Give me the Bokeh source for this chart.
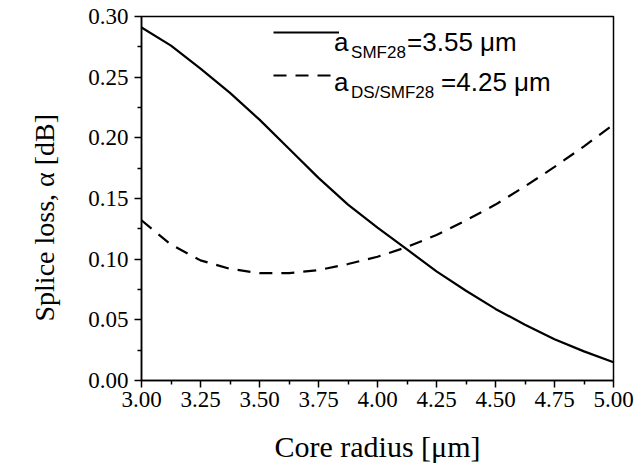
from bokeh.plotting import figure
from bokeh.models import (Range1d, FixedTicker, NumeralTickFormatter,
                          Legend, LegendItem, Label, Title)
from bokeh.embed import file_html
from bokeh.resources import INLINE

# Data
radius = [3.0, 3.125, 3.25, 3.375, 3.5, 3.625, 3.75, 3.875, 4.0, 4.125,
          4.25, 4.375, 4.5, 4.625, 4.75, 4.875, 5.0]
loss_smf28 = [0.291, 0.276, 0.257, 0.237, 0.215, 0.191, 0.167, 0.145, 0.126,
              0.108, 0.090, 0.074, 0.059, 0.046, 0.034, 0.024, 0.015]
loss_ds = [0.132, 0.112, 0.099, 0.092, 0.0885, 0.0885, 0.091, 0.096, 0.102,
           0.110, 0.120, 0.132, 0.145, 0.160, 0.176, 0.193, 0.211]

x_ticks = [3.0, 3.25, 3.5, 3.75, 4.0, 4.25, 4.5, 4.75, 5.0]
x_minor = [3.125, 3.375, 3.625, 3.875, 4.125, 4.375, 4.625, 4.875]
y_ticks = [0.0, 0.05, 0.10, 0.15, 0.20, 0.25, 0.30]
y_minor = [0.025, 0.075, 0.125, 0.175, 0.225, 0.275]

x_label = "Core radius [μm]"
y_label = "Splice loss, α [dB]"
leg1 = ("a", "SMF28", "=3.55 μm")
leg2 = ("a", "DS/SMF28", "=4.25 μm")

SERIF = "Liberation Serif"
SANS = "Liberation Sans"

p = figure(width=640, height=465, output_backend="svg", toolbar_location=None,
           x_range=Range1d(3.0, 5.0), y_range=Range1d(0.0, 0.30),
           min_border_left=123, min_border_right=27, min_border_top=16,
           min_border_bottom=84)
p.grid.visible = False
p.outline_line_color = "black"
p.outline_line_width = 1.5
p.background_fill_color = "white"
p.border_fill_color = "white"

r1 = p.line(radius, loss_smf28, line_color="black", line_width=2.2)
r2 = p.line(radius, loss_ds, line_color="black", line_width=2.2,
            line_dash="13 9")

p.xaxis.ticker = FixedTicker(ticks=x_ticks, minor_ticks=x_minor)
p.yaxis.ticker = FixedTicker(ticks=y_ticks, minor_ticks=y_minor)
p.xaxis.formatter = NumeralTickFormatter(format="0.00")
p.yaxis.formatter = NumeralTickFormatter(format="0.00")

for ax in (p.xaxis[0], p.yaxis[0]):
    ax.axis_line_width = 1.5
    ax.axis_line_color = "black"
    ax.major_tick_line_width = 1.5
    ax.minor_tick_line_width = 1.5
    ax.major_tick_in = 0
    ax.major_tick_out = 7
    ax.minor_tick_in = 0
    ax.minor_tick_out = 4
    ax.major_label_text_font = SERIF
    ax.major_label_text_font_size = "23px"
    ax.major_label_text_color = "black"
    ax.axis_label_text_font = SERIF
    ax.axis_label_text_font_style = "normal"
    ax.axis_label_text_color = "black"

p.xaxis.axis_label = x_label
p.xaxis.axis_label_text_font_size = "30px"
p.xaxis.major_label_standoff = 4
p.yaxis.major_label_standoff = 6
p.xaxis.axis_label_standoff = 20

# y axis title in the left panel, starting a little above the frame bottom
p.add_layout(Title(text=y_label, text_font=SERIF, text_font_size="28px",
                   text_font_style="normal", text_color="black",
                   align="left", offset=59, standoff=52), "left")

legend = Legend(items=[LegendItem(label=" ", renderers=[r1]),
                       LegendItem(label=" ", renderers=[r2])],
                location=(132, 290), glyph_width=66, glyph_height=30,
                label_height=30, spacing=13, padding=0, margin=0,
                border_line_color=None, background_fill_alpha=0,
                label_text_font_size="2px")
p.add_layout(legend)

# legend texts with subscripts
ax0, ay0 = 3.816, 0.2786
row_dy = 40
rest_offsets = [73, 107]
for i, (a, sub, rest) in enumerate((leg1, leg2)):
    yo = -row_dy * i
    p.add_layout(Label(x=ax0, y=ay0, x_offset=0, y_offset=yo, text=a,
                       text_font=SANS, text_font_size="26px",
                       text_color="black", text_baseline="alphabetic"))
    p.add_layout(Label(x=ax0, y=ay0, x_offset=17, y_offset=yo - 10, text=sub,
                       text_font=SANS, text_font_size="17px",
                       text_color="black", text_baseline="alphabetic"))
    p.add_layout(Label(x=ax0, y=ay0, x_offset=rest_offsets[i], y_offset=yo,
                       text=rest, text_font=SANS, text_font_size="26px",
                       text_color="black", text_baseline="alphabetic"))

open("out.html", "w").write(file_html(p, INLINE))
